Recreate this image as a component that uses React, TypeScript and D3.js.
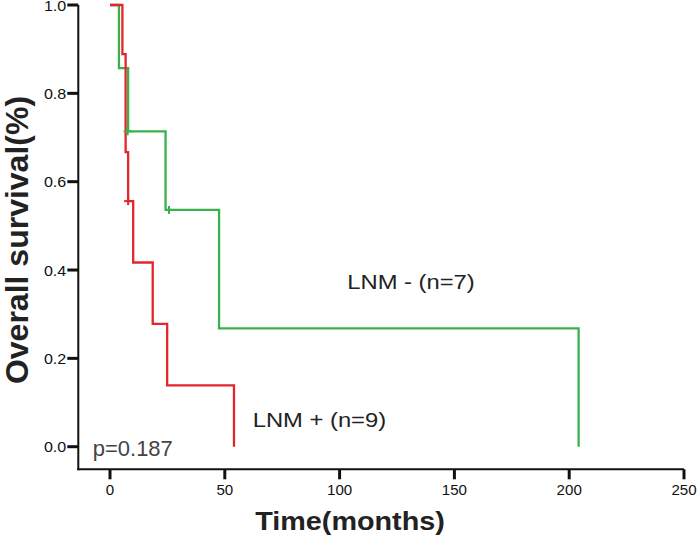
import React from "react";
import * as d3 from "d3";

// Kaplan-Meier data (times in months, survival proportion after event)
const redEventTimes = [5.4, 6.8, 7.9, 10.1, 18.6, 24.9, 54.0];
const redSurvival = [0.889, 0.667, 0.556, 0.417, 0.278, 0.139, 0];
const redCensorTimes = [7.9];
const redCensorSurv = [0.556];

const greenEventTimes = [3.9, 7.9, 24.2, 47.5, 204.1];
const greenSurvival = [0.857, 0.714, 0.536, 0.268, 0];
const greenCensorTimes = [7.7, 25.7];
const greenCensorSurv = [0.714, 0.536];

const xTicks = [0, 50, 100, 150, 200, 250];
const yTicks = [0, 0.2, 0.4, 0.6, 0.8, 1.0];

const RED = "#e3262b";
const GREEN = "#3bb14e";
const SX = 1.15;

function SText(props: any) {
  const { x, y, sx = SX, rotate = 0, children, ...rest } = props;
  return (
    <text transform={`translate(${x},${y}) scale(${sx},1) rotate(${rotate})`} {...rest}>
      {children}
    </text>
  );
}

export default function App() {
  const x = d3.scaleLinear().domain([0, 250]).range([110, 684]);
  const y = d3.scaleLinear().domain([0, 1]).range([446.7, 5]);
  const line = d3
    .line<[number, number]>()
    .x((d) => x(d[0]))
    .y((d) => y(d[1]))
    .curve(d3.curveStepAfter);

  const redPts: [number, number][] = [[0, 1], ...redEventTimes.map((t, i) => [t, redSurvival[i]] as [number, number])];
  const greenPts: [number, number][] = [[0, 1], ...greenEventTimes.map((t, i) => [t, greenSurvival[i]] as [number, number])];

  const font = "'Liberation Sans', Arial, sans-serif";
  const axisY = 469.3;
  const axisX = 78.3;

  const censor = (t: number, s: number, c: string, k: string) => (
    <g key={k} stroke={c} strokeWidth={2}>
      <line x1={x(t) - 4} x2={x(t) + 4} y1={y(s)} y2={y(s)} />
      <line x1={x(t)} x2={x(t)} y1={y(s) - 4} y2={y(s) + 4} />
    </g>
  );

  return (
    <svg width={700} height={539} style={{ position: "absolute", left: 0, top: 0, background: "#fff" }} fontFamily={font}>
      <rect width={700} height={539} fill="#fff" />
      {/* axes */}
      <line x1={axisX} x2={axisX} y1={y(1)} y2={axisY + 1} stroke="#111" strokeWidth={2} />
      <line x1={axisX - 1} x2={x(250)} y1={axisY} y2={axisY} stroke="#111" strokeWidth={2} />
      {yTicks.map((v) => (
        <g key={"y" + v}>
          <line x1={axisX - 11} x2={axisX} y1={y(v)} y2={y(v)} stroke="#111" strokeWidth={3} />
          <SText x={axisX - 12} y={y(v) + 5.5} textAnchor="end" fontSize={14} fill="#111">
            {v.toFixed(1)}
          </SText>
        </g>
      ))}
      {xTicks.map((v) => (
        <g key={"x" + v}>
          <line x1={x(v)} x2={x(v)} y1={axisY} y2={axisY + 10} stroke="#111" strokeWidth={3} />
          <SText x={x(v)} y={495} textAnchor="middle" fontSize={14} sx={1.08} fill="#111">
            {v}
          </SText>
        </g>
      ))}
      {/* curves */}
      <path d={line(greenPts) || ""} fill="none" stroke={GREEN} strokeWidth={2.3} />
      <path d={line(redPts) || ""} fill="none" stroke={RED} strokeWidth={2.3} />
      {greenCensorTimes.map((t, i) => censor(t, greenCensorSurv[i], GREEN, "gc" + i))}
      {redCensorTimes.map((t, i) => censor(t, redCensorSurv[i], RED, "rc" + i))}
      {/* labels */}
      <SText x={347.3} y={289} fontSize={20.5} sx={1.16} fill="#222">LNM - (n=7)</SText>
      <SText x={252.7} y={426.5} fontSize={20.5} sx={1.16} fill="#222">LNM + (n=9)</SText>
      <SText x={92.7} y={456} fontSize={22} sx={1.0} fill="#444">p=0.187</SText>
      <SText x={350} y={530} textAnchor="middle" fontSize={25} fontWeight="bold" fill="#222">
        Time(months)
      </SText>
      <SText x={27.5} y={240} textAnchor="middle" fontSize={32} fontWeight="bold" rotate={-90} sx={1.0} fill="#222">
        Overall survival(%)
      </SText>
    </svg>
  );
}
